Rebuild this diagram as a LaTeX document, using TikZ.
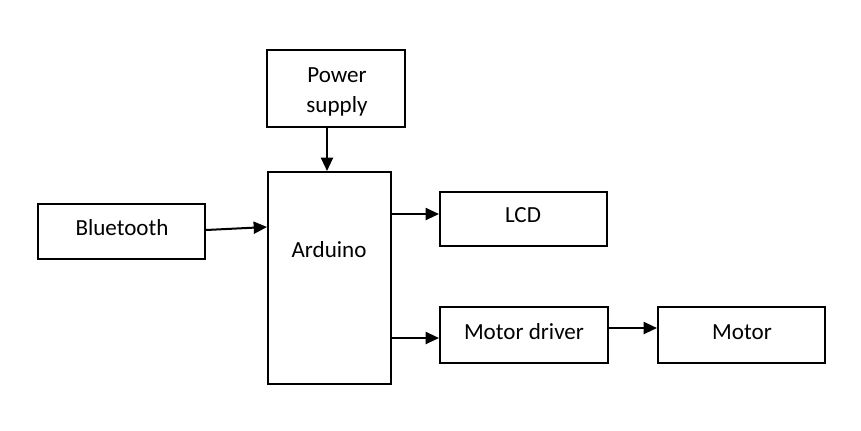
\documentclass[tikz,border=0pt]{standalone}
\usepackage{fontspec}
\setmainfont{Carlito}
\usetikzlibrary{calc,arrows.meta}
\begin{document}
\begin{tikzpicture}[x=0.75pt,y=-0.75pt,
  box/.style={draw,line width=1.5pt,inner sep=0pt,rectangle},
  lbl/.style={anchor=base,inner sep=0pt,font=\fontsize{17.3pt}{21pt}\selectfont},
  arr/.style={line width=1.5pt,-{Triangle[length=10pt,width=9pt]}}]
\useasboundingbox (0,0) rectangle (861,430);
\node[box,minimum width=103.5pt,minimum height=57.75pt] (power) at (336,88.5) {};
\node[box,minimum width=92.25pt,minimum height=159pt] (arduino) at (329.5,278) {};
\node[box,minimum width=125.25pt,minimum height=41.25pt] (bt) at (121.5,231.5) {};
\node[box,minimum width=125.25pt,minimum height=40.5pt] (lcd) at (523.5,219) {};
\node[box,minimum width=126pt,minimum height=42pt] (driver) at (524,335) {};
\node[box,minimum width=125.25pt,minimum height=42pt] (motor) at (741.5,335) {};
\node[lbl] (tpower) at (337,82) {Power};
\node[lbl] (tsupply) at (337,112) {supply};
\node[lbl] (tarduino) at (329,257) {Arduino};
\node[lbl] (tbt) at (122,235) {Bluetooth};
\node[lbl] (tlcd) at (523,222) {LCD};
\node[lbl] (tdriver) at (524,339) {Motor driver};
\node[lbl] (tmotor) at (742,339) {Motor};
\draw[arr] ($(power.south)+(-9,0)$) -- ($(arduino.north)+(-2.5,0)$);
\draw[arr] ($(bt.east)+(0,-1.5)$) -- ($(arduino.north west)+(0,56)$);
\draw[arr] ($(arduino.east)+(-2,-64)$) -- ($(lcd.west)+(0,-5)$);
\draw[arr] ($(arduino.east)+(0,60)$) -- ($(driver.west)+(0,3)$);
\draw[arr] ($(driver.east)+(0,-7)$) -- ($(motor.west)+(0,-7)$);
\end{tikzpicture}
\end{document}
